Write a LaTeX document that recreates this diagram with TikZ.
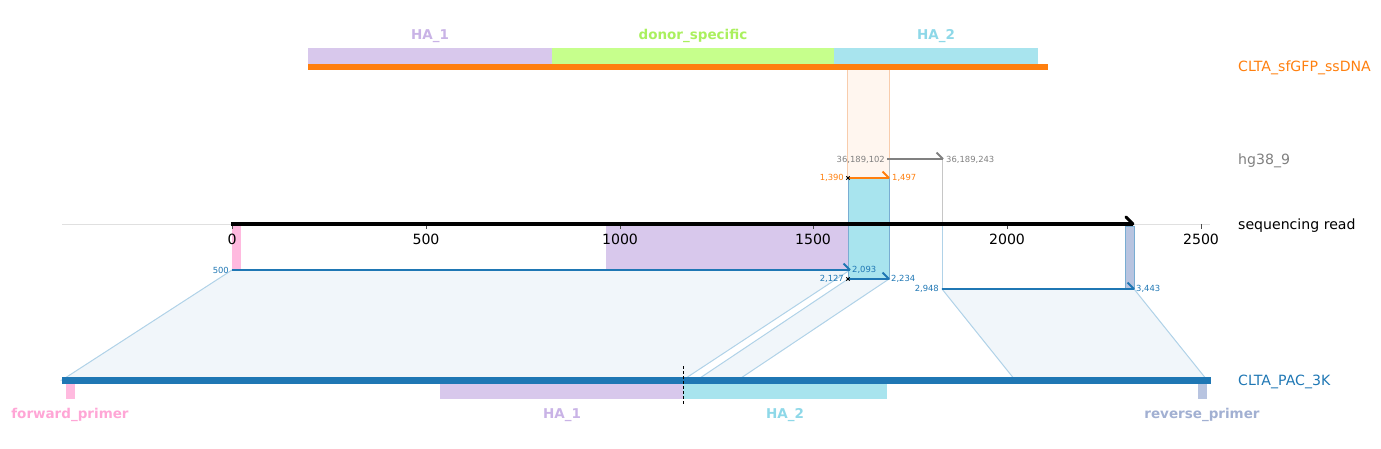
\documentclass[tikz,border=0pt]{standalone}
\usepackage{fontspec}
\setmainfont{DejaVu Sans}
\definecolor{cblue}{HTML}{1F77B4}
\definecolor{corange}{HTML}{FF7F0E}
\definecolor{cgray}{HTML}{808080}
\definecolor{haone}{HTML}{D8C8EC}
\definecolor{haonet}{HTML}{C9B3E6}
\definecolor{donor}{HTML}{C6FF8C}
\definecolor{donort}{HTML}{AAF05E}
\definecolor{hatwo}{HTML}{A8E4EE}
\definecolor{hatwot}{HTML}{8ED8E8}
\definecolor{fwd}{HTML}{FFBADF}
\definecolor{fwdt}{HTML}{FFA6D6}
\definecolor{rev}{HTML}{B8C4E0}
\definecolor{revt}{HTML}{A2B0D2}
\definecolor{parfill}{HTML}{F1F6FA}
\definecolor{paredge}{HTML}{B0D2E8}
\definecolor{pale}{HTML}{FFF6EF}
\definecolor{paleedge}{HTML}{F8CCAC}
\tikzset{
  big/.style={font=\fontsize{14.1}{16}\selectfont},
  small/.style={font=\fontsize{8.4}{10}\selectfont},
  bold/.style={font=\fontsize{13.5}{16}\selectfont\bfseries},
  par/.style={fill=parfill, draw=paredge, line width=1pt},
  aln/.style={line width=1.8pt},
  hook/.style={line width=1.8pt},
  xmark/.style={line width=0.9pt, black},
}
\begin{document}
\begin{tikzpicture}[x=1pt,y=-1pt]
\useasboundingbox (0,0) rectangle (1381,448);
% --- parallelograms
\path[par] (232,270) -- (850,270) -- (683,380) -- (62,380) -- cycle;
\path[par] (848,279) -- (889,279) -- (738,380) -- (697,380) -- cycle;
\path[par] (942,289) -- (1134,289) -- (1207,380) -- (1015,380) -- cycle;
% --- pale orange box
\path[fill=pale, draw=paleedge, line width=0.8pt] (847,69) rectangle (889,178);
% --- features on read
\fill[fwd] (232,226) rectangle (241,270);
\fill[haone] (606,226) rectangle (848,270);
\path[fill=rev, draw=cblue!60, line width=0.6pt] (1125,226) rectangle (1134,289);
\path[fill=hatwo, draw=cblue!60, line width=0.6pt] (848,178) rectangle (889,279);
% --- vertical connector lines
\draw[cgray!50, line width=0.8pt] (889,159) -- (889,178);
\draw[cgray!45, line width=0.8pt] (942,159) -- (942,224);
\draw[paredge, line width=0.8pt] (942,224) -- (942,289);
% --- axis
\draw[black!12, line width=0.8pt] (62,224) -- (1210,224);
\foreach \v/\x in {0/232,500/426,1000/620,1500/813,2000/1007,2500/1201}{
  \draw[black!70, line width=0.8pt] (\x,224) -- (\x,229);
  \node[big, anchor=north, inner sep=0pt] (t\v) at (\x,234) {\v};
}
\draw[black, line width=3.6pt] (231,224) -- (1133,224);
\draw[black, line width=3pt, line cap=round] (1133,224) -- (1126,217);
% --- reference PAC
\fill[fwd] (66,383) rectangle (75,399);
\fill[haone] (440,383) rectangle (683,399);
\fill[hatwo] (683,383) rectangle (887,399);
\fill[rev] (1198,383) rectangle (1207,399);
\draw[cblue, line width=7pt] (62,380) -- (1211,380);
\draw[black, line width=1pt, dash pattern=on 3pt off 2pt] (683,366) -- (683,404);
\node[bold, text=fwdt] (lfwd) at (70,415) {forward\_primer};
\node[bold, text=haonet] (lha1) at (562,415) {HA\_1};
\node[bold, text=hatwot] (lha2) at (785,415) {HA\_2};
\node[bold, text=revt] (lrev) at (1202,415) {reverse\_primer};
% --- ssDNA
\fill[haone] (308,48) rectangle (552,64);
\fill[donor] (552,48) rectangle (834,64);
\fill[hatwo] (834,48) rectangle (1038,64);
\draw[corange, line width=6pt] (308,66.5) -- (1048,66.5);
\node[bold, text=haonet] (sha1) at (430,36) {HA\_1};
\node[bold, text=donort] (sdon) at (693,36) {donor\_specific};
\node[bold, text=hatwot] (sha2) at (936,36) {HA\_2};
% --- track labels
\node[big, anchor=west, text=corange, inner sep=0pt] (nss) at (1238,68) {CLTA\_sfGFP\_ssDNA};
\node[big, anchor=west, text=cgray, inner sep=0pt] (nhg) at (1238,161) {hg38\_9};
\node[big, anchor=west, text=black, inner sep=0pt] (nrd) at (1238,226) {sequencing read};
\node[big, anchor=west, text=cblue, inner sep=0pt] (npac) at (1238,382) {CLTA\_PAC\_3K};
% --- alignments
% hg38
\draw[cgray, aln] (887,159) -- (943,159);
\draw[cgray, hook] (943,159) -- (936.5,152.5);
\node[small, anchor=east, text=cgray, inner sep=1pt] (h1) at (886,159.5) {36,189,102};
\node[small, anchor=west, text=cgray, inner sep=1pt] (h2) at (945,159.5) {36,189,243};
% ssDNA
\draw[corange, aln] (848,178) -- (889,178);
\draw[corange, hook] (889,178) -- (882.5,171.5);
\draw[xmark] (846.3,176.3) -- (849.7,179.7) (846.3,179.7) -- (849.7,176.3);
\node[small, anchor=east, text=corange, inner sep=1pt] (o1) at (845,177.5) {1,390};
\node[small, anchor=west, text=corange, inner sep=1pt] (o2) at (891,177.5) {1,497};
% PAC 1
\draw[cblue, aln] (232,270) -- (850,270);
\draw[cblue, hook] (850,270) -- (843.5,263.5);
\node[small, anchor=east, text=cblue, inner sep=1pt] (p1a) at (230,270) {500};
\node[small, anchor=west, text=cblue, inner sep=1pt] (p1b) at (851,270) {2,093};
% PAC 2
\draw[cblue, aln] (848,279) -- (889,279);
\draw[cblue, hook] (889,279) -- (882.5,272.5);
\draw[xmark] (846.3,277.3) -- (849.7,280.7) (846.3,280.7) -- (849.7,277.3);
\node[small, anchor=east, text=cblue, inner sep=1pt] (p2a) at (845,279) {2,127};
\node[small, anchor=west, text=cblue, inner sep=1pt] (p2b) at (890,279) {2,234};
% PAC 3
\draw[cblue, aln] (942,289) -- (1134,289);
\draw[cblue, hook] (1134,289) -- (1127.5,282.5);
\node[small, anchor=east, text=cblue, inner sep=1pt] (p3a) at (940,288.5) {2,948};
\node[small, anchor=west, text=cblue, inner sep=1pt] (p3b) at (1135,288.5) {3,443};
\end{tikzpicture}
\end{document}
